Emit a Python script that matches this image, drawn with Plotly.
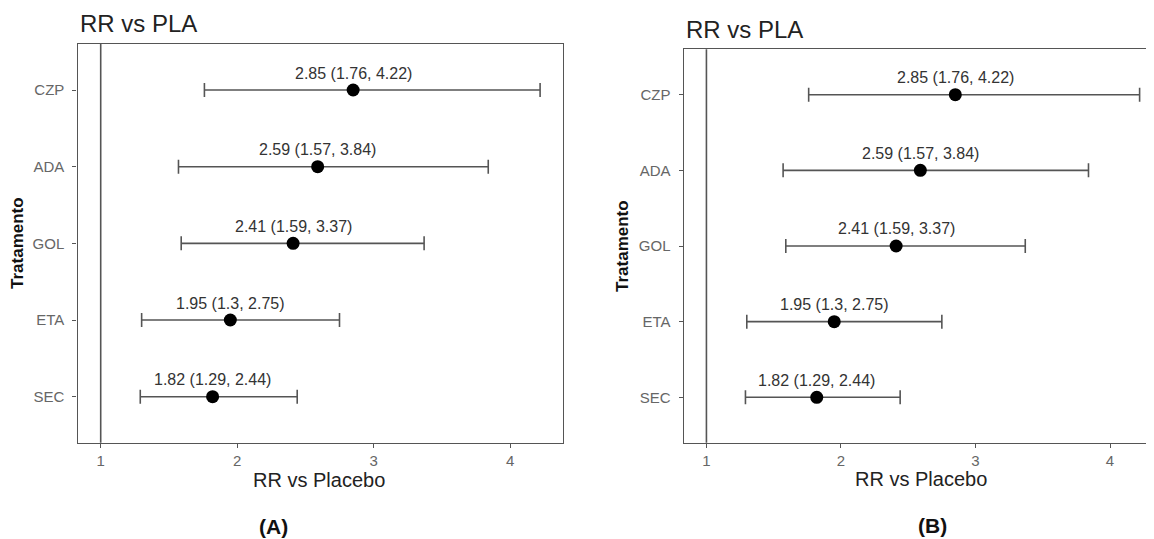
import plotly.graph_objects as go

# ---- data ----
treatments = ["SEC", "ETA", "GOL", "ADA", "CZP"]
rr = [1.82, 1.95, 2.41, 2.59, 2.85]
lower = [1.29, 1.3, 1.59, 1.57, 1.76]
upper = [2.44, 2.75, 3.37, 3.84, 4.22]
x_ticks = [1, 2, 3, 4]
panel_titles = ["RR vs PLA", "RR vs PLA"]
panel_tags = ["(A)", "(B)"]
x_title = "RR vs Placebo"
y_title = "Tratamento"

# page body has an 8px margin, so the figure is offset; compensate
OFF = 8
W, H = 1154 - OFF, 539 - OFF
FONT = "Liberation Sans, Arial, sans-serif"
LINE = "#555555"

def px(x):
    return (x - OFF) / W

def py(y):
    return 1 - (y - OFF) / H

labels = [f"{m} ({l}, {u})" for m, l, u in zip(rr, lower, upper)]
err_plus = [u - m for m, u in zip(rr, upper)]
err_minus = [m - l for m, l in zip(rr, lower)]

fig = go.Figure()

panels = [
    dict(xa="x", ya="y", xdom=[px(77.5), px(563.3)], ydom=[py(442.7), py(44)],
         xrange=[0.83, 4.39], mirror_y=True,
         title_xy=(78.3, 24), xt_xy=(319, 480), tag_xy=(273, 526), yt_xy=(18, 243)),
    dict(xa="x2", ya="y2", xdom=[px(683.7), 1.0], ydom=[py(442.7), py(49.3)],
         xrange=[0.831, 4.327], mirror_y=False,
         title_xy=(684.4, 30), xt_xy=(921, 479), tag_xy=(932, 525), yt_xy=(622, 246)),
]

annotations = []
shapes = []
for i, p in enumerate(panels):
    fig.add_trace(go.Scatter(
        x=rr, y=treatments, mode="markers",
        xaxis=p["xa"], yaxis=p["ya"],
        marker=dict(color="black", size=13),
        error_x=dict(type="data", array=err_plus, arrayminus=err_minus,
                     color=LINE, thickness=1.6, width=7),
        showlegend=False, hoverinfo="skip",
    ))
    for t, m, lab in zip(treatments, rr, labels):
        annotations.append(dict(
            x=m, y=t, xref=p["xa"], yref=p["ya"], text=lab, showarrow=False,
            yshift=17, font=dict(family=FONT, size=16, color="#333333"),
            xanchor="center", yanchor="middle",
        ))
    shapes.append(dict(
        type="line", x0=1, x1=1, y0=0, y1=1,
        xref=p["xa"], yref=p["ya"] + " domain",
        line=dict(color=LINE, width=1.6), layer="above",
    ))
    tx, ty = p["title_xy"]
    annotations.append(dict(x=px(tx), y=py(ty), xref="paper", yref="paper",
                            text=panel_titles[i], showarrow=False,
                            xanchor="left", yanchor="middle",
                            font=dict(family=FONT, size=24, color="#222222")))
    ax, ay = p["xt_xy"]
    annotations.append(dict(x=px(ax), y=py(ay), xref="paper", yref="paper",
                            text=x_title, showarrow=False,
                            xanchor="center", yanchor="middle",
                            font=dict(family=FONT, size=20, color="#222222")))
    gx, gy = p["tag_xy"]
    annotations.append(dict(x=px(gx), y=py(gy), xref="paper", yref="paper",
                            text="<b>" + panel_tags[i] + "</b>", showarrow=False,
                            xanchor="center", yanchor="middle",
                            font=dict(family=FONT, size=21, color="#111111")))
    yx, yy = p["yt_xy"]
    annotations.append(dict(x=px(yx), y=py(yy), xref="paper", yref="paper",
                            text="<b>" + y_title + "</b>", showarrow=False,
                            textangle=-90, xanchor="center", yanchor="middle",
                            font=dict(family=FONT, size=17, color="#111111")))

    xkey = "xaxis" if i == 0 else "xaxis2"
    ykey = "yaxis" if i == 0 else "yaxis2"
    fig.update_layout(**{
        xkey: dict(domain=p["xdom"], range=p["xrange"], anchor=p["ya"],
                   tickvals=x_ticks, ticks="outside", ticklen=4, tickcolor=LINE,
                   showline=True, linecolor=LINE, linewidth=1.4, mirror=True,
                   showgrid=False, zeroline=False,
                   tickfont=dict(family=FONT, size=15, color="#666666")),
        ykey: dict(domain=p["ydom"], range=[-0.6, 4.6], anchor=p["xa"],
                   type="category", categoryorder="array", categoryarray=treatments,
                   ticks="outside", ticklen=4, tickcolor=LINE,
                   ticklabelstandoff=5,
                   showline=True, linecolor=LINE, linewidth=1.4,
                   mirror=p["mirror_y"],
                   showgrid=False, zeroline=False,
                   tickfont=dict(family=FONT, size=15, color="#666666")),
    })

fig.update_layout(
    width=W, height=H,
    margin=dict(l=0, r=0, t=0, b=0),
    paper_bgcolor="white", plot_bgcolor="white",
    annotations=annotations, shapes=shapes,
)

fig.write_html("out.html")
